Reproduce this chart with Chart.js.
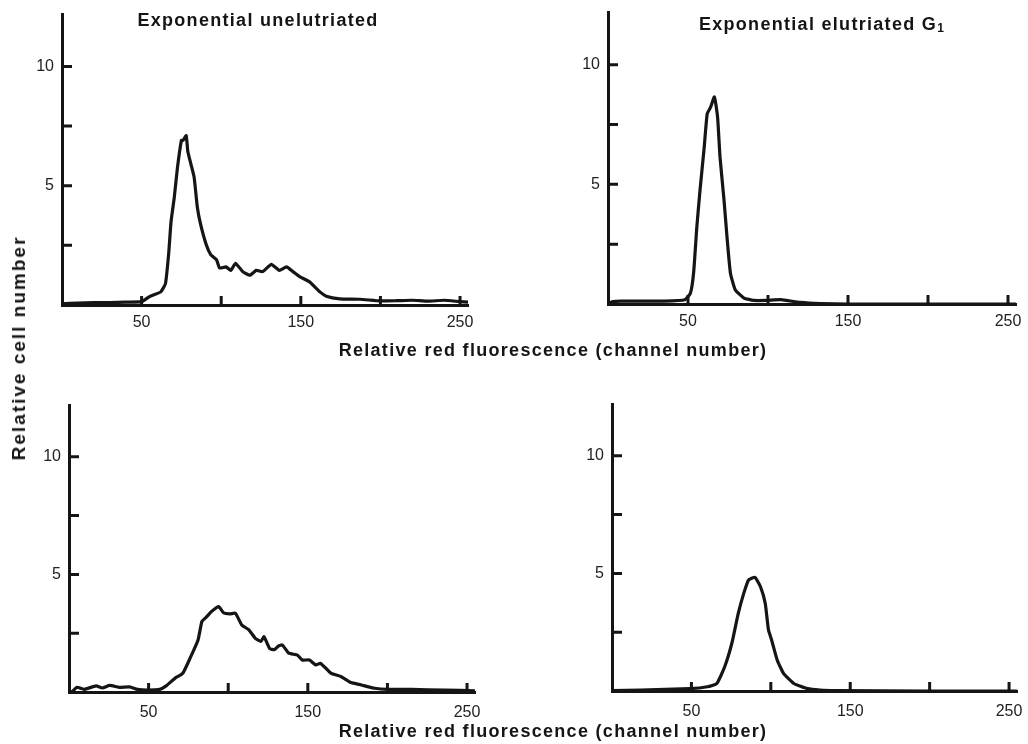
<!DOCTYPE html>
<html>
<head>
<meta charset="utf-8">
<title>Relative red fluorescence histograms</title>
<script src="https://cdn.jsdelivr.net/npm/chart.js@4.4.1/dist/chart.umd.min.js"></script>
<style>
  body { margin: 0; background: #fff; }
  #page { position: relative; width: 1028px; height: 744px; overflow: hidden;
          font-family: "Liberation Sans", Arial, sans-serif; color: #151515; }
  canvas { position: absolute; }
  .label { position: absolute; white-space: nowrap; font-weight: bold; font-size: 18px;
           letter-spacing: 1.3px; transform: translate(-50%, -50%); }
  .label sub { font-size: 12px; vertical-align: -2px; }
  #yTitle { font-size: 19px; letter-spacing: 2px; transform: translate(-50%, -50%) rotate(-90deg); }
</style>
</head>
<body>
<div id="page">
  <canvas id="chartA" width="500" height="345" style="left:0;top:0"></canvas>
  <canvas id="chartB" width="508" height="345" style="left:520px;top:0"></canvas>
  <canvas id="chartC" width="500" height="364" style="left:0;top:380px"></canvas>
  <canvas id="chartD" width="508" height="364" style="left:520px;top:380px"></canvas>

  <div class="label" style="left:258px;top:20px">Exponential unelutriated</div>
  <div class="label" style="left:822px;top:24px">Exponential elutriated G<sub>1</sub></div>
  <div class="label" style="left:553px;top:350px">Relative red fluorescence (channel number)</div>
  <div class="label" style="left:553px;top:731px">Relative red fluorescence (channel number)</div>
  <div class="label" id="yTitle" style="left:19px;top:348px">Relative cell number</div>
</div>

<script>
// axis ticks
const xTickValues = [50, 100, 150, 200, 250];
const xLabelled = [50, 150, 250];
const yTickValues = [2.5, 5, 7.5, 10];
const yLabelled = [5, 10];

// Exponential unelutriated
const unelutChannel = [0, 10, 20, 30, 40, 50, 55, 62, 65, 67, 68.5, 70.5, 72.5, 75, 76, 78, 79, 81, 83, 85,
  87, 90.5, 93.5, 97, 99, 103, 106, 109, 113.5, 118, 122, 126, 131.5, 136.5, 141, 145, 149, 155.5, 162, 166,
  174.5, 187, 200, 210, 220, 230, 240, 250, 255];
const unelutCount = [0.05, 0.08, 0.1, 0.1, 0.12, 0.14, 0.35, 0.55, 0.9, 2.15, 3.5, 4.5, 5.75, 6.9, 6.9, 7.1, 6.45, 5.9, 5.35, 4.1,
  3.4, 2.55, 2.1, 1.9, 1.55, 1.6, 1.45, 1.75, 1.4, 1.25, 1.45, 1.4, 1.7, 1.45, 1.6, 1.4, 1.2, 0.97, 0.55, 0.37,
  0.26, 0.24, 0.17, 0.18, 0.2, 0.16, 0.2, 0.14, 0.12];

// Exponential elutriated G1
const g1Channel = [0, 3, 8, 20, 35, 48, 51.5, 53.5, 55.5, 57.5, 60, 62, 64, 66.5, 68.5, 70, 72.5, 74.5, 76.5, 79.5,
  85, 91, 99, 108, 120, 133, 150, 200, 255];
const g1Count = [0.02, 0.1, 0.12, 0.12, 0.12, 0.18, 0.45, 1.3, 3.2, 4.75, 6.45, 7.95, 8.2, 8.65, 7.8, 6.15, 4.35, 2.7, 1.3, 0.6,
  0.25, 0.15, 0.15, 0.18, 0.07, 0.02, 0, 0, 0];

// lower left histogram
const lowerLeftChannel = [0, 2, 5, 9.5, 17, 21, 25.5, 31.5, 38, 43, 49.5, 57, 61, 66.5, 71.5, 76, 81, 83.5, 86.5, 89.5,
  94, 97, 101, 104.5, 108.5, 113, 117, 120.5, 122.5, 126, 129, 131.5, 134, 138, 143.5, 146.5, 151, 155, 158, 164.5,
  171, 177, 183.5, 192, 200, 215, 236, 255];
const lowerLeftCount = [0, 0.02, 0.2, 0.11, 0.26, 0.17, 0.28, 0.2, 0.22, 0.11, 0.08, 0.11, 0.26, 0.58, 0.8, 1.43, 2.2, 3.0, 3.2, 3.42,
  3.63, 3.37, 3.32, 3.35, 2.85, 2.64, 2.28, 2.15, 2.35, 1.85, 1.8, 1.95, 2.0, 1.65, 1.57, 1.36, 1.36, 1.15, 1.22, 0.8,
  0.65, 0.4, 0.3, 0.16, 0.11, 0.11, 0.08, 0.05];

// lower right histogram
const lowerRightChannel = [0, 18, 49, 60, 66, 71, 75.5, 79.5, 83, 86, 90, 93.5, 96.5, 98.5, 100.5, 104, 108, 114.5, 123, 131,
  141, 200, 255];
const lowerRightCount = [0.02, 0.04, 0.1, 0.18, 0.32, 1.04, 2.04, 3.3, 4.16, 4.72, 4.83, 4.43, 3.72, 2.6, 2.17, 1.32, 0.75, 0.32, 0.1, 0.04,
  0.02, 0, 0];

const ink = '#151515';
const fontFamily = '"Liberation Sans", Arial, sans-serif';

// short tick marks pointing into the plot
const innerTicks = {
  id: 'innerTicks',
  afterDatasetsDraw(chart) {
    const { ctx, chartArea, scales } = chart;
    ctx.save();
    ctx.strokeStyle = ink;
    ctx.lineWidth = 3;
    ctx.beginPath();
    xTickValues.forEach(v => {
      const px = scales.x.getPixelForValue(v);
      ctx.moveTo(px, chartArea.bottom);
      ctx.lineTo(px, chartArea.bottom - 9);
    });
    yTickValues.forEach(v => {
      const py = scales.y.getPixelForValue(v);
      ctx.moveTo(chartArea.left, py);
      ctx.lineTo(chartArea.left + 10, py);
    });
    ctx.stroke();
    ctx.restore();
  }
};

function makePanel(id, channels, counts, box) {
  const points = channels.map((c, i) => ({ x: c, y: counts[i] }));
  return new Chart(document.getElementById(id), {
    type: 'line',
    data: {
      datasets: [{
        data: points,
        borderColor: ink,
        borderWidth: 3.2,
        borderJoinStyle: 'round',
        borderCapStyle: 'round',
        pointRadius: 0,
        tension: 0.15,
        fill: false
      }]
    },
    options: {
      responsive: false,
      animation: false,
      devicePixelRatio: 1,
      layout: { padding: { top: box.padTop, right: box.padRight, left: 0, bottom: 0 } },
      plugins: { legend: { display: false }, tooltip: { enabled: false } },
      scales: {
        x: {
          type: 'linear',
          min: 0,
          max: 255,
          afterBuildTicks: s => { s.ticks = xTickValues.map(v => ({ value: v })); },
          // fixed axis box; the end labels may overhang without shrinking the plot
          afterFit: s => { s.height = box.xAxisH; s.paddingLeft = 0; s.paddingRight = 0; },
          grid: { display: false, drawTicks: false },
          border: { display: true, color: ink, width: 3 },
          ticks: {
            autoSkip: false, maxRotation: 0, padding: box.labelGap, color: '#222',
            font: { family: fontFamily, size: 16 },
            callback: v => xLabelled.includes(v) ? String(v) : ''
          }
        },
        y: {
          min: 0,
          max: 12.2,
          afterBuildTicks: s => { s.ticks = yTickValues.map(v => ({ value: v })); },
          afterFit: s => { s.width = box.yAxisW; s.paddingTop = 0; s.paddingBottom = 0; },
          grid: { display: false, drawTicks: false },
          border: { display: true, color: ink, width: 3 },
          ticks: {
            autoSkip: false, padding: 8, color: '#222',
            font: { family: fontFamily, size: 16 },
            callback: v => yLabelled.includes(v) ? String(v) : ''
          }
        }
      }
    },
    plugins: [innerTicks]
  });
}

makePanel('chartA', unelutChannel, unelutCount, { yAxisW: 62, padRight: 32, padTop: 14, xAxisH: 40, labelGap: 8 });
makePanel('chartB', g1Channel, g1Count, { yAxisW: 88, padRight: 12, padTop: 12, xAxisH: 41, labelGap: 8 });
makePanel('chartC', lowerLeftChannel, lowerLeftCount, { yAxisW: 69, padRight: 25, padTop: 25, xAxisH: 52, labelGap: 11 });
makePanel('chartD', lowerRightChannel, lowerRightCount, { yAxisW: 92, padRight: 11, padTop: 24, xAxisH: 53, labelGap: 11 });
</script>
</body>
</html>
